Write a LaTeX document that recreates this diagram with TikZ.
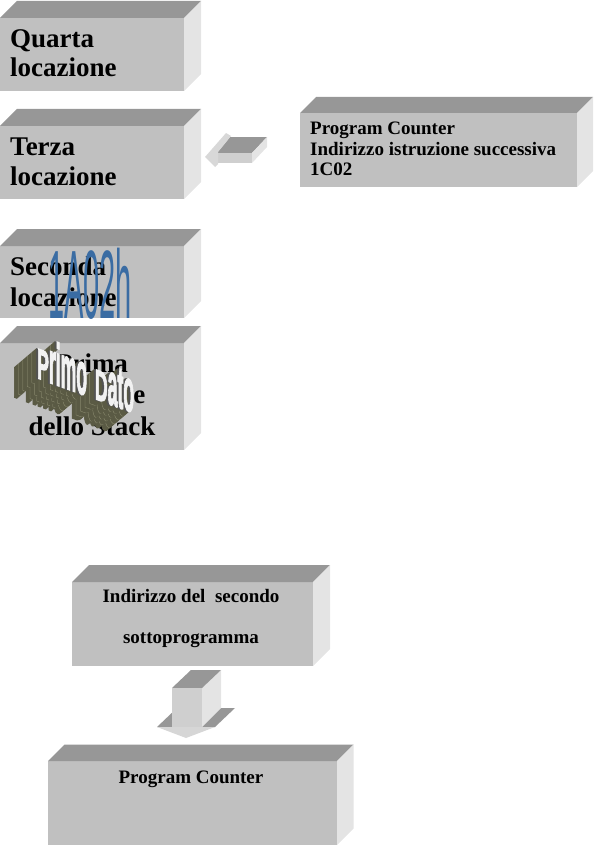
\documentclass[tikz,border=0pt]{standalone}
\usepackage{graphicx}
\usepackage{fontspec}
\setmainfont{Liberation Serif}
\newfontfamily\wafont{Liberation Sans}
\newfontfamily\wafontheavy[FakeBold=3]{Liberation Sans}
\definecolor{topc}{HTML}{979797}
\definecolor{frontc}{HTML}{C0C0C0}
\definecolor{sidec}{HTML}{E4E4E4}
\definecolor{arrowlight}{HTML}{CFCFCF}
\definecolor{wablue}{HTML}{3A6CA3}
\definecolor{extrude}{HTML}{5A5A44}
\definecolor{extrudelt}{HTML}{85856A}
\newcommand\cubefaces[2]{%
  \fill[topc] (#1.north west) -- ++(#2,-#2) -- ([shift={(#2,-#2)}]#1.north east) -- (#1.north east) -- cycle;
  \fill[sidec] (#1.north east) -- ++(#2,-#2) -- ([shift={(#2,-#2)}]#1.south east) -- (#1.south east) -- cycle;}
\newcommand\tallx[1]{\scalebox{1}[1.38]{#1}}
\newcommand\primotext{P\tallx{rimo}\hspace{0.45em}D\tallx{ato}}
\tikzset{
  front/.style={fill=frontc, draw=none, inner sep=0pt, outer sep=0pt, anchor=north west},
  bigtxt/.style={font=\fontsize{27}{30}\selectfont\bfseries, inner sep=0pt},
  smalltxt/.style={font=\fontsize{19}{20}\selectfont\bfseries, inner sep=0pt},
  wordart/.style={font=\wafontheavy\bfseries\fontsize{20}{20}\selectfont, inner sep=0pt, anchor=base west,
     yslant=-0.36, xscale=0.88, yscale=2.15},
}
\begin{document}
\begin{tikzpicture}[x={(1pt,0)}, y={(0,-1pt)}]
\useasboundingbox (0,0) rectangle (597,848);

% ---- stack boxes
\node[front, minimum width=184pt, minimum height=73pt] (q4) at (0,18) {};
\cubefaces{q4}{17}
\node[bigtxt, anchor=base west] (q4a) at (10,48) {Quarta};
\node[bigtxt, anchor=base west] (q4b) at (10,77) {locazione};

\node[front, minimum width=184pt, minimum height=73pt] (q3) at (0,126) {};
\cubefaces{q3}{17}
\node[bigtxt, anchor=base west] (q3a) at (10,155) {Terza};
\node[bigtxt, anchor=base west] (q3b) at (10,185) {locazione};

\node[front, minimum width=184pt, minimum height=72pt] (q2) at (0,246) {};
\cubefaces{q2}{17}
\node[bigtxt, anchor=base west] (q2a) at (10,275) {Seconda};
\node[bigtxt, anchor=base west] (q2b) at (10,306) {locazione};

\node[front, minimum width=184pt, minimum height=107pt] (q1) at (0,343) {};
\cubefaces{q1}{17}
\node[bigtxt, anchor=base] (q1a) at (92,372) {Prima};
\node[bigtxt, anchor=base] (q1b) at (92,403) {locazione};
\node[bigtxt, anchor=base] (q1c) at (92,435) {dello Stack};

% ---- word art 1A02h
\node[font=\wafont\fontsize{29}{29}\selectfont, text=wablue, inner sep=0pt,
      anchor=base, yscale=3.35] (wa1) at (90,318) {1A02h};

% ---- word art Primo Dato (extruded)
\foreach \k in {22,21.5,...,0.5}{
  \pgfmathtruncatemacro\kk{round(2*\k)}
  \pgfmathtruncatemacro\cc{mod(\kk,9)==0 ? 1 : 0}
  \ifnum\cc=1
    \node[wordart, text=extrudelt] at ({35-\k},{378+0.85*\k}) {\primotext};
  \else
    \node[wordart, text=extrude] at ({35-\k},{378+0.85*\k}) {\primotext};
  \fi
}
\node[wordart, text=gray!65!black] (wa2s) at (35,378) {\primotext};
\node[wordart, text=gray!10] (wa2) at (37,378) {\primotext};

% ---- program counter (top right)
\node[front, minimum width=277pt, minimum height=74pt] (pc1) at (300,113) {};
\cubefaces{pc1}{16}
\node[smalltxt, anchor=base west] (pc1a) at (310,135) {Program Counter};
\node[smalltxt, anchor=base west] (pc1b) at (310,155) {Indirizzo istruzione successiva};
\node[smalltxt, anchor=base west] (pc1c) at (310,175) {1C02};

% ---- left arrow
\fill[topc] (217,153) -- (230,137) -- (267,137) -- (252,153) -- cycle;
\fill[sidec] (252,153) -- (267,137) -- (267,147) -- (252,163) -- cycle;
\fill[arrowlight] (217,153) -- (252,153) -- (252,163) -- (217,163) -- cycle;
\fill[arrowlight!80!white] (205,157) -- (226,133) -- (231,136) -- (218,152) -- (218,164) -- (215,167) -- cycle;

% ---- bottom: address box
\node[front, minimum width=241pt, minimum height=84pt] (ad) at (72,582) {};
\cubefaces{ad}{17}
\node[smalltxt, anchor=base] (ada) at (191,602) {Indirizzo del\ \ secondo};
\node[smalltxt, anchor=base] (adb) at (191,643) {sottoprogramma};

% ---- down arrow
\fill[topc] (157,727) -- (177,708) -- (235,708) -- (215,727) -- cycle;
\fill[sidec] (202,688) -- (221,670) -- (221,708) -- (202,727) -- cycle;
\fill[topc] (172,688) -- (191,670) -- (221,670) -- (202,688) -- cycle;
\fill[arrowlight] (172,688) rectangle (202,727);
\fill[arrowlight!85!white] (157,727) -- (215,727) -- (186,738) -- cycle;

% ---- bottom: program counter
\node[front, minimum width=289pt, minimum height=84pt] (pc2) at (48,761) {};
\cubefaces{pc2}{16.5}
\node[smalltxt, anchor=base] (pc2a) at (191,783) {Program Counter};
\end{tikzpicture}
\end{document}
